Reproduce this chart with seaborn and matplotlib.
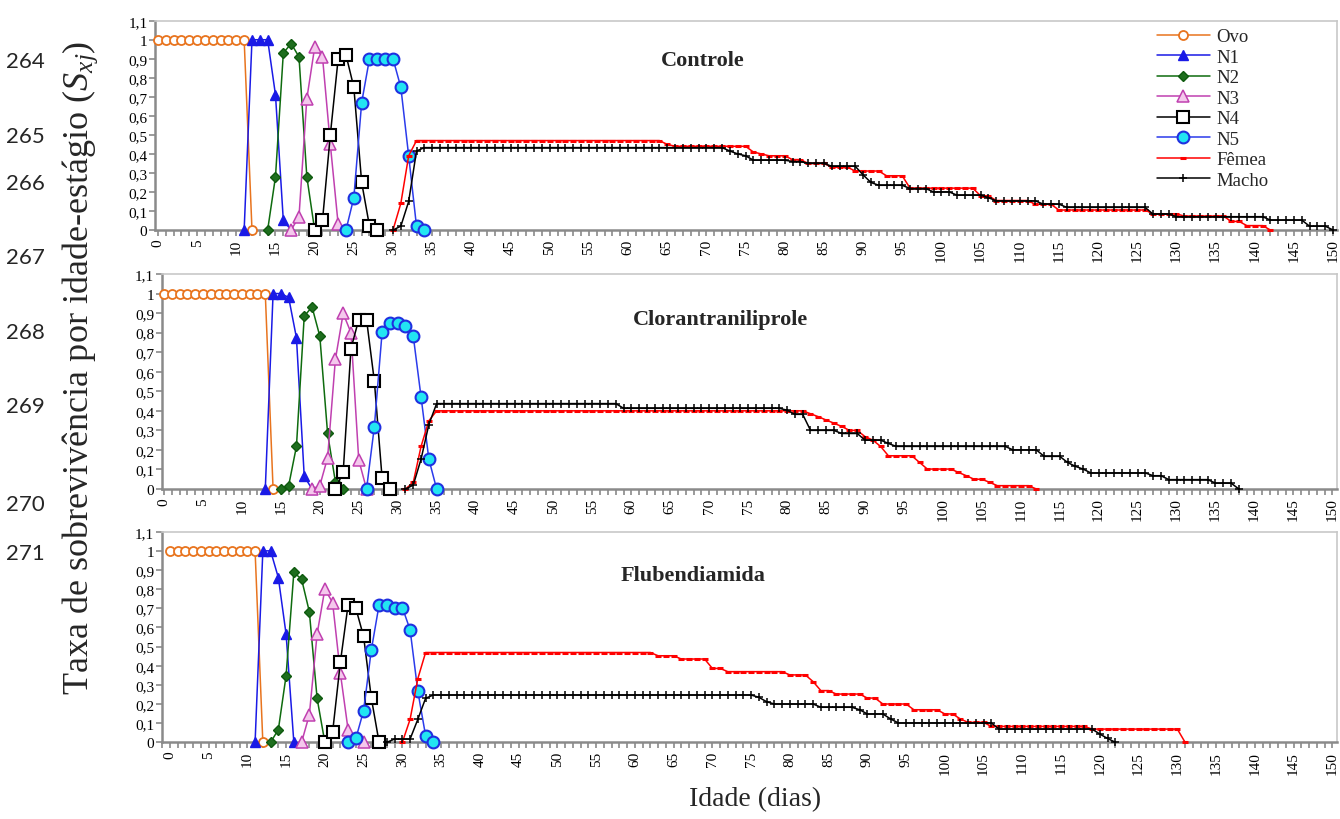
import numpy as np
import matplotlib
matplotlib.use("Agg")
import matplotlib.pyplot as plt
import seaborn as sns
from matplotlib.ticker import MultipleLocator, FixedLocator

# ---------------- data ----------------
stage_names = ["Ovo", "N1", "N2", "N3", "N4", "N5"]
y_tick_vals = [0, 0.1, 0.2, 0.3, 0.4, 0.5, 0.6, 0.7, 0.8, 0.9, 1.0, 1.1]
y_tick_text = ["0", "0,1", "0,2", "0,3", "0,4", "0,5", "0,6", "0,7", "0,8", "0,9", "1", "1,1"]
x_tick_vals = list(range(0, 151, 5))
panel_titles = ["Controle", "Clorantraniliprole", "Flubendiamida"]
line_numbers = ["264", "265", "266", "267", "268", "269", "270", "271"]

# Controle
ctrl_ovo_x = list(range(0, 13))
ctrl_ovo_y = [1.0] * 12 + [0.0]
ctrl_n1_x = [11, 12, 13, 14, 15, 16, 17]
ctrl_n1_y = [0, 1, 1, 1, 0.71, 0.05, 0]
ctrl_n2_x = [14, 15, 16, 17, 18, 19, 20]
ctrl_n2_y = [0, 0.28, 0.93, 0.98, 0.91, 0.28, 0]
ctrl_n3_x = [17, 18, 19, 20, 21, 22, 23]
ctrl_n3_y = [0, 0.07, 0.69, 0.96, 0.91, 0.45, 0.03]
ctrl_n4_x = [20, 21, 22, 23, 24, 25, 26, 27, 28]
ctrl_n4_y = [0, 0.05, 0.50, 0.90, 0.92, 0.75, 0.25, 0.02, 0.0]
ctrl_n5_x = [24, 25, 26, 27, 28, 29, 30, 31, 32, 33, 34]
ctrl_n5_y = [0, 0.17, 0.67, 0.90, 0.90, 0.90, 0.90, 0.75, 0.39, 0.02, 0]
ctrl_fem_start = 30
ctrl_fem_vals = [0, 0.14, 0.39, 0.47, 0.45, 0.44, 0.41, 0.40, 0.39, 0.37, 0.35, 0.33,
                 0.31, 0.285, 0.22, 0.18, 0.155, 0.135, 0.105, 0.085, 0.073, 0.045, 0.023, 0]
ctrl_fem_runs = [1, 1, 1, 32, 1, 10, 1, 1, 3, 2, 3, 3,
                 4, 3, 9, 2, 5, 3, 12, 4, 6, 2, 3, 1]
ctrl_mac_start = 30
ctrl_mac_vals = [0, 0.02, 0.15, 0.415, 0.433, 0.415, 0.40, 0.39, 0.367, 0.36, 0.35, 0.335,
                 0.29, 0.25, 0.235, 0.218, 0.20, 0.183, 0.17, 0.153, 0.136, 0.119, 0.084,
                 0.07, 0.052, 0.02, 0]
ctrl_mac_runs = [1, 1, 1, 1, 39, 1, 1, 1, 5, 2, 3, 4,
                 1, 1, 4, 3, 3, 4, 1, 6, 3, 11, 3,
                 12, 5, 3, 1]

# Clorantraniliprole
clor_ovo_x = list(range(0, 15))
clor_ovo_y = [1.0] * 14 + [0.0]
clor_n1_x = [13, 14, 15, 16, 17, 18, 19]
clor_n1_y = [0, 1, 1, 0.98, 0.774, 0.065, 0]
clor_n2_x = [15, 16, 17, 18, 19, 20, 21, 22, 23]
clor_n2_y = [0, 0.017, 0.218, 0.884, 0.932, 0.782, 0.284, 0.037, 0]
clor_n3_x = [19, 20, 21, 22, 23, 24, 25, 26]
clor_n3_y = [0, 0.017, 0.16, 0.663, 0.898, 0.80, 0.148, 0]
clor_n4_x = [22, 23, 24, 25, 26, 27, 28, 29]
clor_n4_y = [0, 0.085, 0.718, 0.867, 0.867, 0.553, 0.054, 0]
clor_n5_x = [26, 27, 28, 29, 30, 31, 32, 33, 34, 35]
clor_n5_y = [0, 0.318, 0.803, 0.85, 0.85, 0.833, 0.782, 0.471, 0.153, 0]
clor_fem_start = 31
clor_fem_vals = [0, 0.034, 0.218, 0.349, 0.40, 0.385, 0.37, 0.353, 0.337, 0.32, 0.30,
                 0.268, 0.25, 0.218, 0.17, 0.136, 0.102, 0.085, 0.068, 0.05, 0.034, 0.017, 0]
clor_fem_runs = [1, 1, 1, 1, 48, 1, 1, 1, 1, 1, 2,
                 1, 1, 1, 4, 1, 4, 1, 1, 2, 1, 5, 1]
clor_mac_start = 31
clor_mac_vals = [0, 0.02, 0.153, 0.33, 0.437, 0.413, 0.403, 0.382, 0.30, 0.284, 0.25,
                 0.233, 0.218, 0.20, 0.167, 0.136, 0.116, 0.102, 0.082, 0.068, 0.048, 0.03, 0]
clor_mac_runs = [1, 1, 1, 1, 24, 21, 1, 2, 4, 3, 3,
                 1, 15, 4, 3, 1, 1, 1, 8, 2, 6, 3, 1]

# Flubendiamida
flub_ovo_x = list(range(0, 13))
flub_ovo_y = [1.0] * 12 + [0.0]
flub_n1_x = [11, 12, 13, 14, 15, 16]
flub_n1_y = [0, 1, 1, 0.86, 0.565, 0]
flub_n2_x = [13, 14, 15, 16, 17, 18, 19, 20]
flub_n2_y = [0, 0.066, 0.348, 0.887, 0.852, 0.682, 0.23, 0]
flub_n3_x = [17, 18, 19, 20, 21, 22, 23, 25]
flub_n3_y = [0, 0.144, 0.565, 0.80, 0.73, 0.362, 0.066, 0]
flub_n4_x = [20, 21, 22, 23, 24, 25, 26, 27]
flub_n4_y = [0, 0.052, 0.417, 0.718, 0.70, 0.553, 0.231, 0]
flub_n5_x = [23, 24, 25, 26, 27, 28, 29, 30, 31, 32, 33, 34]
flub_n5_y = [0, 0.02, 0.165, 0.483, 0.718, 0.718, 0.704, 0.704, 0.588, 0.266, 0.035, 0]
flub_fem_start = 30
flub_fem_vals = [0, 0.12, 0.333, 0.469, 0.452, 0.435, 0.386, 0.369, 0.352, 0.317, 0.27,
                 0.252, 0.231, 0.2, 0.17, 0.148, 0.122, 0.104, 0.083, 0.069, 0]
flub_fem_runs = [1, 1, 1, 30, 3, 4, 2, 8, 3, 1, 2,
                 4, 2, 4, 4, 2, 1, 3, 13, 12, 1]
flub_mac_start = 28
flub_mac_vals = [0, 0.017, 0.12, 0.23, 0.247, 0.235, 0.212, 0.2, 0.183, 0.17, 0.148,
                 0.122, 0.101, 0.069, 0.043, 0.02, 0]
flub_mac_runs = [1, 3, 1, 1, 42, 1, 1, 6, 5, 1, 3,
                 1, 13, 13, 1, 1, 1]

# ---------------- styling ----------------
sns.set_theme(style="white")
plt.rcParams["font.family"] = ["Liberation Serif", "DejaVu Serif"]
plt.rcParams["mathtext.fontset"] = "custom"
plt.rcParams["mathtext.rm"] = "Liberation Serif"
plt.rcParams["mathtext.it"] = "Liberation Serif:italic"

STYLES = {
    "Ovo": dict(color="#E8741E", marker="o", markersize=6.5, markerfacecolor="white",
                markeredgecolor="#E8741E", markeredgewidth=1.3),
    "N1": dict(color="#1A1AE6", marker="^", markersize=7.5, markerfacecolor="#1A1AE6",
               markeredgecolor="#1A1AE6", markeredgewidth=1),
    "N2": dict(color="#0E6B0E", marker="D", markersize=5.5, markerfacecolor="#1E6E1E",
               markeredgecolor="#0E5A0E", markeredgewidth=1),
    "N3": dict(color="#C040B0", marker="^", markersize=8, markerfacecolor="#F4C8EC",
               markeredgecolor="#C040B0", markeredgewidth=1.1),
    "N4": dict(color="black", marker="s", markersize=8.5, markerfacecolor="white",
               markeredgecolor="black", markeredgewidth=1.5),
    "N5": dict(color="#2B3BEB", marker="o", markersize=8.5, markerfacecolor="#22E5F2",
               markeredgecolor="#2030E0", markeredgewidth=1.5),
    "Fêmea": dict(color="#FF0000", marker="_", markersize=5, markerfacecolor="#FF0000",
                  markeredgecolor="#FF0000", markeredgewidth=2.2),
    "Macho": dict(color="black", marker="+", markersize=6, markerfacecolor="black",
                  markeredgecolor="black", markeredgewidth=1.1),
}

panels = [
    dict(title="Controle", title_xy=(69.5, 0.895), rect=[155, 21.7, 1337, 231], xlim=(-0.38, 150.5),
         stages=[(ctrl_ovo_x, ctrl_ovo_y), (ctrl_n1_x, ctrl_n1_y), (ctrl_n2_x, ctrl_n2_y),
                 (ctrl_n3_x, ctrl_n3_y), (ctrl_n4_x, ctrl_n4_y), (ctrl_n5_x, ctrl_n5_y)],
         fem=(ctrl_fem_start, ctrl_fem_vals, ctrl_fem_runs),
         mac=(ctrl_mac_start, ctrl_mac_vals, ctrl_mac_runs)),
    dict(title="Clorantraniliprole", title_xy=(71.5, 0.87), rect=[161.7, 275, 1337, 490], xlim=(-0.3, 150.6),
         stages=[(clor_ovo_x, clor_ovo_y), (clor_n1_x, clor_n1_y), (clor_n2_x, clor_n2_y),
                 (clor_n3_x, clor_n3_y), (clor_n4_x, clor_n4_y), (clor_n5_x, clor_n5_y)],
         fem=(clor_fem_start, clor_fem_vals, clor_fem_runs),
         mac=(clor_mac_start, clor_mac_vals, clor_mac_runs)),
    dict(title="Flubendiamida", title_xy=(67.5, 0.873), rect=[161.7, 532.7, 1337, 743.3], xlim=(-1.05, 150.6),
         stages=[(flub_ovo_x, flub_ovo_y), (flub_n1_x, flub_n1_y), (flub_n2_x, flub_n2_y),
                 (flub_n3_x, flub_n3_y), (flub_n4_x, flub_n4_y), (flub_n5_x, flub_n5_y)],
         fem=(flub_fem_start, flub_fem_vals, flub_fem_runs),
         mac=(flub_mac_start, flub_mac_vals, flub_mac_runs)),
]

W, H = 1340, 820
fig = plt.figure(figsize=(W / 100, H / 100), dpi=100)


def expand(start, vals, runs):
    days = start + np.arange(int(np.sum(runs)))
    return days, np.repeat(vals, runs)


def draw(ax, x, y, name, label=None):
    sns.lineplot(x=x, y=y, ax=ax, errorbar=None, sort=False, linewidth=1.1,
                 clip_on=False, zorder=4, label=label, **STYLES[name])


for i, p in enumerate(panels):
    x0, y0, x1, y1 = p["rect"]
    ax = fig.add_axes([x0 / W, 1 - y1 / H, (x1 - x0) / W, (y1 - y0) / H])
    first = i == 0

    for name, (sx, sy) in zip(stage_names, p["stages"]):
        draw(ax, sx, sy, name, name if first else None)
    fx, fy = expand(*p["fem"])
    draw(ax, fx, fy, "Fêmea", "Fêmea" if first else None)
    mx, my = expand(*p["mac"])
    draw(ax, mx, my, "Macho", "Macho" if first else None)

    ax.set_xlim(*p["xlim"])
    ax.set_ylim(0, 1.1)
    ax.set_xlabel("")
    ax.set_ylabel("")
    ax.xaxis.set_major_locator(FixedLocator(x_tick_vals))
    ax.xaxis.set_minor_locator(MultipleLocator(1))
    ax.set_xticklabels([str(v) for v in x_tick_vals], rotation=90, fontsize=11)
    ax.yaxis.set_major_locator(FixedLocator(y_tick_vals))
    ax.set_yticklabels(y_tick_text, fontsize=11)
    ax.tick_params(axis="both", which="both", direction="out", color="#8a8a8a",
                   length=4, width=1.2, pad=1.5, labelcolor="black")
    ax.tick_params(axis="x", which="both", bottom=True, length=4.5)
    ax.tick_params(axis="y", left=True, length=4)
    for side in ["left", "bottom"]:
        ax.spines[side].set_color("#8a8a8a")
        ax.spines[side].set_linewidth(1.8)
    for side in ["top", "right"]:
        ax.spines[side].set_color("#c8c8c8")
        ax.spines[side].set_linewidth(1.2)
    ax.text(*p["title_xy"], p["title"], ha="center", va="center",
            fontsize=16, fontweight="bold")

    if first:
        handles, labels = ax.get_legend_handles_labels()
        ax.legend(handles, labels, loc="upper left", bbox_to_anchor=(1157 / W, 1 - 29 / H),
                  bbox_transform=fig.transFigure, frameon=False, fontsize=13.5,
                  handlelength=2.8, labelspacing=0.18, handletextpad=0.35,
                  borderpad=0, borderaxespad=0)
    else:
        leg = ax.get_legend()
        if leg is not None:
            leg.remove()

fig.text(80 / W, 1 - 368 / H, r"Taxa de sobrevivência por idade-estágio ($S_{xj}$)",
         rotation=90, ha="center", va="center", fontsize=26)
fig.text(755 / W, 1 - 800 / H, "Idade (dias)", ha="center", va="center", fontsize=20)

line_y = [62, 137, 184, 258, 333, 407, 505, 554]
for txt, yy in zip(line_numbers, line_y):
    fig.text(6 / W, 1 - yy / H, txt, ha="left", va="center", fontsize=16,
             family=["Lato", "DejaVu Sans"])

fig.savefig("out.png", dpi=100)
